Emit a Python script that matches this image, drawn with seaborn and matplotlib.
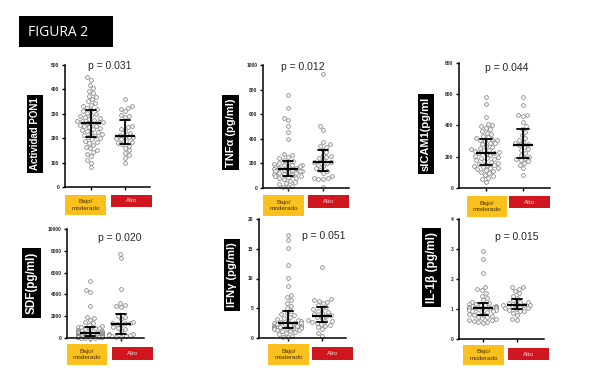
import matplotlib
matplotlib.use("Agg")
import matplotlib.pyplot as plt
from matplotlib.patches import Rectangle
import pandas as pd
import seaborn as sns

# values (individual subjects per group)
grupos = ["Bajo/\nmoderado", "Alto"]

pon1_bajo = [450, 440, 420, 405, 395, 385, 375, 368, 360, 352, 345, 338, 330, 325, 318,
             315, 310, 305, 300, 296, 292, 288, 284, 280, 276, 272, 270, 268, 266, 264,
             260, 256, 252, 248, 244, 240, 236, 232, 228, 224, 220, 216, 212, 208, 205,
             200, 195, 190, 185, 180, 172, 165, 158, 150, 142, 135, 125, 112, 100, 80]
pon1_alto = [360, 330, 325, 320, 310, 295, 290, 285, 250, 245, 238, 230, 222, 215, 210,
             206, 204, 200, 195, 190, 185, 180, 176, 170, 160, 150, 140, 130, 120, 100]

tnf_bajo = [760, 650, 570, 555, 500, 455, 400, 275, 265, 255, 240, 230, 220, 210,
            200, 195, 190, 185, 185, 178, 172, 170, 165, 160, 155, 150, 145, 142,
            138, 135, 130, 125, 120, 115, 110, 105, 100, 96,
            90, 85, 80, 70, 60, 50, 40, 30, 20, 10, 5]
tnf_alto = [930, 500, 470, 370, 355, 340, 330, 310, 290, 270, 260, 250, 240, 225, 215,
            210, 200, 190, 180, 160, 150, 135, 120, 100, 85, 80, 75, 70, 10]

icam_bajo = [585, 540, 455, 410, 400, 395, 385, 375, 365, 355, 345, 335, 325, 320, 315,
             310, 305, 300, 290, 285, 280, 270, 262, 255, 250, 245, 240, 235, 230, 226,
             222, 218, 212, 206, 200, 195, 190, 185, 178, 172, 166, 160, 155, 150, 146,
             140, 135, 130, 125, 120, 115, 110, 100, 95, 85, 75, 65, 55, 40]
icam_alto = [580, 530, 470, 465, 460, 420, 395, 380, 360, 340, 320, 305, 295, 285, 280,
             275, 265, 250, 240, 225, 210, 200, 192, 185, 180, 170, 160, 150, 130, 85]

sdf_bajo = [5200, 4400, 4200, 2950, 1950, 1800, 1650, 1500, 1350, 1200, 1100, 1050,
            1000, 950, 900, 850, 800, 700, 650, 600, 560, 520, 500, 480, 450, 420, 400,
            380, 350, 320, 300, 280, 250, 220, 200, 180, 160, 140, 120, 100, 80, 60,
            50, 40, 30, 20, 10]
sdf_alto = [7700, 7300, 4500, 3200, 3050, 2900, 2800, 2000, 1900, 1700, 1500, 1400,
            1380, 1350, 1300, 1200, 1000, 900, 800, 600, 400, 350, 300, 250, 200, 150,
            100, 50]

ifn_bajo = [17.3, 16.4, 15.2, 12.3, 10.1, 8.7, 7.3, 6.9, 6.4, 5.9, 5.4, 5.0, 4.6, 4.2,
            4.0, 3.8, 3.6, 3.4, 3.2, 3.0, 2.9, 2.8, 2.7, 2.6, 2.5, 2.45,
            2.4, 2.3, 2.2, 2.1, 2.0, 1.95, 1.9, 1.85, 1.8, 1.75, 1.7, 1.65, 1.6,
            1.5, 1.4, 1.3, 1.2, 1.1, 1.0, 0.8, 0.6, 0.4, 0.2, 0.1]
ifn_alto = [12.0, 6.5, 6.4, 6.3, 6.1, 5.8, 5.5, 5.2, 5.0, 4.8, 4.6, 4.4, 4.2, 4.0, 3.8,
            3.7, 3.5, 3.3, 3.1, 2.9, 2.8, 2.7, 2.6, 2.4, 2.2, 2.0, 1.8, 1.5, 0.8, 0.4]

il1_bajo = [2.92, 2.67, 2.2, 1.74, 1.68, 1.62, 1.55, 1.45, 1.38, 1.3, 1.25, 1.2, 1.18,
            1.16, 1.14, 1.12, 1.1, 1.09, 1.08, 1.07, 1.06, 1.05, 1.04,
            1.03, 1.02, 1.0, 0.98, 0.96, 0.94, 0.92, 0.9, 0.88, 0.85, 0.82, 0.8, 0.78,
            0.75, 0.72, 0.7, 0.68, 0.65, 0.62, 0.6, 0.58, 0.56, 0.55]
il1_alto = [1.75, 1.72, 1.68, 1.6, 1.52, 1.45, 1.38, 1.3, 1.25, 1.22, 1.2, 1.18, 1.15,
            1.13, 1.12, 1.1, 1.08, 1.05, 1.02, 1.0, 0.97, 0.95, 0.92, 0.88, 0.8, 0.68, 0.62]

p_valores = ["p = 0.031", "p = 0.012", "p = 0.044", "p = 0.020", "p = 0.051", "p = 0.015"]
etiquetas_y = ["Actividad PON1", "TNF\u03b1 (pg/ml)", "sICAM1(pg/ml",
               "SDF(pg/ml)", "IFN\u03b3 (pg/ml)", "IL-1\u03b2 (pg/ml)"]

W, H = 600, 386
AMARILLO = "#f9c01e"
ROJO = "#d0161e"

sns.set_theme(style="ticks")
plt.rcParams["font.family"] = ["Liberation Sans", "DejaVu Sans"]

fig = plt.figure(figsize=(6, 3.86), dpi=100)


def rect(x0, y0, x1, y1, color):
    fig.add_artist(Rectangle((x0 / W, 1 - y1 / H), (x1 - x0) / W, (y1 - y0) / H,
                             transform=fig.transFigure, facecolor=color, edgecolor="none"))


def txt(x, y, s, **kw):
    fig.text(x / W, 1 - y / H, s, ha="center", va="center", **kw)


def panel(caja, xlim, yticks, bajo, alto, ylab, lab_xy, lab_fs, ptxt, p_xy, ya, ra):
    left, right, top, bottom = caja
    ax = fig.add_axes([left / W, 1 - bottom / H, (right - left) / W, (bottom - top) / H])
    df = pd.DataFrame({"grupo": [grupos[0]] * len(bajo) + [grupos[1]] * len(alto),
                       "valor": bajo + alto})
    sns.swarmplot(data=df, x="grupo", y="valor", ax=ax, color="white", edgecolor="0.5",
                  linewidth=0.55, size=2.7, warn_thresh=1, clip_on=False, zorder=2)
    sns.pointplot(data=df, x="grupo", y="valor", ax=ax, estimator="median",
                  errorbar=("pi", 50), color="black", marker="_", markersize=15,
                  markeredgewidth=1.6, linestyle="none", capsize=0.3,
                  err_kws={"linewidth": 1.3}, zorder=3)
    ax.set_xlim(*xlim)
    ax.set_ylim(yticks[0], yticks[-1])
    ax.set_yticks(yticks)
    ax.set_yticklabels([f"{t:g}" for t in yticks], fontsize=3.5, fontweight="bold")
    ax.set_xticks([0, 1])
    ax.set_xticklabels([])
    ax.set_xlabel("")
    ax.set_ylabel("")
    ax.tick_params(axis="both", length=2.5, width=1, pad=1.5, color="black")
    sns.despine(ax=ax)
    for s in ["left", "bottom"]:
        ax.spines[s].set_linewidth(1.1)
        ax.spines[s].set_color("black")

    txt(*p_xy, ptxt, fontsize=7.5)
    txt(*lab_xy, ylab, rotation=90, fontsize=lab_fs, fontweight="bold", color="white",
        bbox=dict(facecolor="black", edgecolor="none", boxstyle="square,pad=0.3"))

    rect(*ya, AMARILLO)
    rect(*ra, ROJO)
    txt((ya[0] + ya[2]) / 2, (ya[1] + ya[3]) / 2, grupos[0], fontsize=4.6,
        color="#4a3000", linespacing=1.3)
    txt((ra[0] + ra[2]) / 2, (ra[1] + ra[3]) / 2, grupos[1], fontsize=4.6, color="#f6d6d6")


# title box
rect(19, 16, 113, 47, "black")
txt(58, 32, "FIGURA 2", fontsize=10, color="white", family=["Open Sans", "DejaVu Sans"])

panel((65, 150, 65, 187), (-0.76, 1.74), [0, 100, 200, 300, 400, 500],
      pon1_bajo, pon1_alto, etiquetas_y[0], (35, 134), 7, p_valores[0], (110, 66),
      (65, 195, 106, 215), (111, 195, 152, 207))
panel((263, 349, 65, 188), (-0.71, 1.74), [0, 200, 400, 600, 800, 1000],
      tnf_bajo, tnf_alto, etiquetas_y[1], (230.5, 132.5), 8, p_valores[1], (303, 67),
      (263, 195, 304, 216), (308, 195, 349, 208))
panel((459, 550, 63, 188), (-0.73, 1.73), [0, 200, 400, 600, 800],
      icam_bajo, icam_alto, etiquetas_y[2], (426, 134), 8, p_valores[2], (507, 68),
      (467, 196, 507, 217), (509, 196, 550, 208))
panel((67, 144, 229, 338), (-0.74, 1.74), [0, 2000, 4000, 6000, 8000, 10000],
      sdf_bajo, sdf_alto, etiquetas_y[3], (31.5, 283), 8.4, p_valores[3], (120, 238),
      (67, 344, 107, 365), (112, 347, 153, 360))
panel((259, 346, 219, 338), (-0.85, 1.71), [0, 5, 10, 15, 20],
      ifn_bajo, ifn_alto, etiquetas_y[4], (232, 275), 8.1, p_valores[4], (324, 236),
      (268, 344, 309, 365), (312, 347, 353, 360))
panel((459, 544, 219, 339), (-0.7, 1.8), [0, 1, 2, 3, 4],
      il1_bajo, il1_alto, etiquetas_y[5], (431.5, 267.5), 8.5, p_valores[5], (517, 237),
      (463, 345, 504, 365), (508, 348, 549, 360))

fig.savefig("out.png", dpi=100)
